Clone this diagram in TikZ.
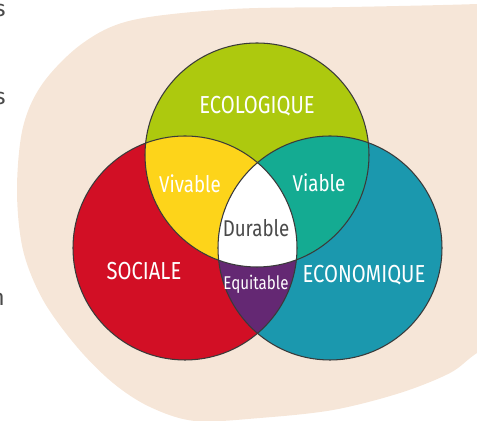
\documentclass[tikz,border=0pt]{standalone}
\usepackage{fontspec}
\setmainfont{Fira Sans}
\usetikzlibrary{calc}
\definecolor{fondbeige}{HTML}{F6E6D8}
\definecolor{ecovert}{HTML}{ADC90E}
\definecolor{socrouge}{HTML}{D20F25}
\definecolor{ecobleu}{HTML}{1B98AE}
\definecolor{vivjaune}{HTML}{FDD41A}
\definecolor{viavert}{HTML}{14AB92}
\definecolor{equviolet}{HTML}{642873}
\definecolor{trait}{HTML}{3A3A3A}
\definecolor{texte}{HTML}{4A4A4A}
\newcommand{\rayon}{112}
\newcommand{\serre}[1]{\scalebox{0.82}[1]{#1}}
\tikzset{
  bord/.style={draw=trait,line width=0.6pt},
  titre/.style={text=white,font=\fontsize{14}{16}\selectfont},
  zone/.style={text=white,font=\fontsize{13}{15}\selectfont},
  marge/.style={text=texte,anchor=base east,font=\fontsize{13}{15}\selectfont,inner sep=0pt}
}
\begin{document}
\begin{tikzpicture}[x=0.02cm,y=-0.02cm,line join=round,line cap=round]
\useasboundingbox (0,0) rectangle (477,421);
\clip (0,0) rectangle (477,421);
% fond
\fill[fondbeige] plot[smooth cycle,tension=0.55] coordinates {
(530,0) (477,4) (350,7) (233,9) (133,20) (83,43) (43,83) (23,127) (17,190)
(23,250) (43,300) (77,347) (113,383) (150,407) (195,421) (260,418) (333,410)
(400,393) (450,373) (477,353) (530,320)};
% bouts de texte de la page
\node[marge] (m1) at (6,17) {s};
\node[marge] (m2) at (6,105) {s};
\node[marge] (m3) at (5,306) {n};
% centres
\path
(257,155) coordinate (G)
(185,248) coordinate (S)
(330,248) coordinate (E)
;
\fill[socrouge] (S) circle (\rayon);
\fill[ecobleu] (E) circle (\rayon);
\fill[ecovert] (G) circle (\rayon);
\begin{scope}
\clip (G) circle (\rayon);
\fill[vivjaune] (S) circle (\rayon);
\fill[viavert] (E) circle (\rayon);
\end{scope}
\begin{scope}
\clip (S) circle (\rayon);
\fill[equviolet] (E) circle (\rayon);
\clip (E) circle (\rayon);
\fill[white] (G) circle (\rayon);
\end{scope}
\foreach \c in {G,S,E}
{\draw[bord] (\c) circle (\rayon);}
% textes
\node[titre] (eco) at (257,106) {\serre{ECOLOGIQUE}};
\node[titre] (soc) at (144,271) {\serre{SOCIALE}};
\node[titre] (econ) at (364,275) {\serre{ECONOMIQUE}};
\node[zone] (viv) at (190,184) {\serre{Vivable}};
\node[zone] (via) at (319,183) {\serre{Viable}};
\node[zone,text=texte] (dur) at (256,228) {\serre{Durable}};
\node[zone,font=\fontsize{10.5}{12}\selectfont] (equ) at (256,284) {\serre{Equitable}};
\end{tikzpicture}
\end{document}
